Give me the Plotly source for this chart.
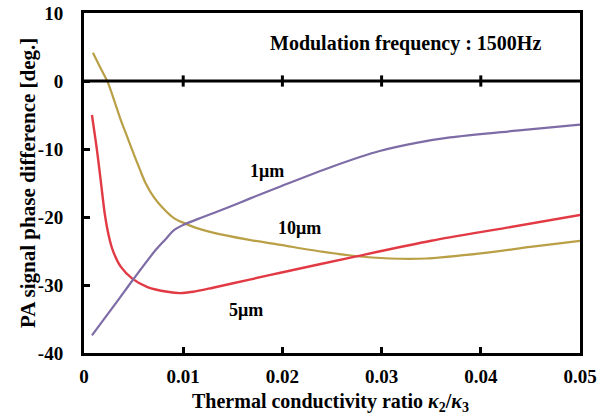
import plotly.graph_objects as go

# Data
x_1um = [0.0008, 0.0034, 0.0049, 0.0072, 0.0082, 0.0091, 0.0101, 0.012, 0.0145, 0.0167, 0.0198, 0.025, 0.0298, 0.0335, 0.0369, 0.0436, 0.05]
y_1um = [-37.4, -32.3, -29.3, -24.9, -23.3, -21.9, -21.1, -20.0, -18.6, -17.3, -15.5, -12.6, -10.3, -9.1, -8.3, -7.3, -6.4]

x_5um = [0.0008, 0.0013, 0.0017, 0.0021, 0.0025, 0.0029, 0.0037, 0.0049, 0.0064, 0.0084, 0.0097, 0.011, 0.013, 0.0167, 0.0198, 0.0271, 0.035, 0.0425, 0.05]
y_5um = [-5.0, -10.1, -14.8, -19.6, -22.8, -24.9, -27.3, -29.1, -30.3, -31.0, -31.2, -31.0, -30.4, -29.2, -28.2, -25.9, -23.5, -21.6, -19.7]

x_10um = [0.0009, 0.0016, 0.0024, 0.0031, 0.0037, 0.0043, 0.0049, 0.0056, 0.0062, 0.007, 0.0079, 0.0091, 0.0101, 0.0113, 0.013, 0.0164, 0.0198, 0.024, 0.0271, 0.0308, 0.0345, 0.0402, 0.045, 0.05]
y_10um = [4.15, 2.1, -0.2, -3.1, -5.7, -8.0, -10.3, -12.9, -15.0, -17.0, -18.6, -20.2, -20.9, -21.6, -22.3, -23.3, -24.1, -25.1, -25.7, -26.1, -26.1, -25.3, -24.4, -23.5]

x_ticks = [0, 0.01, 0.02, 0.03, 0.04, 0.05]
x_tick_text = ["0", "0.01", "0.02", "0.03", "0.04", "0.05"]
y_ticks = [10, 0, -10, -20, -30, -40]
y_tick_text = ["10", "0", "-10", "-20", "-30", "-40"]

labels = ["1μm", "10μm", "5μm"]
label_x = [0.0184, 0.0217, 0.0163]
label_y = [-13.2, -21.6, -33.7]

FONT = "Liberation Serif"

fig = go.Figure()
fig.add_trace(go.Scatter(x=x_10um, y=y_10um, mode="lines", line=dict(color="#b99f45", width=2.2, shape="spline", smoothing=0.8)))
fig.add_trace(go.Scatter(x=x_5um, y=y_5um, mode="lines", line=dict(color="#e23a44", width=2.4, shape="spline", smoothing=0.8)))
fig.add_trace(go.Scatter(x=x_1um, y=y_1um, mode="lines", line=dict(color="#7e6ca6", width=2.2, shape="spline", smoothing=0.8)))

# zero line with small ticks
fig.add_trace(go.Scatter(x=[0, 0.05], y=[0, 0], mode="lines", line=dict(color="black", width=3), hoverinfo="skip"))
fig.add_trace(go.Scatter(x=x_ticks[1:-1], y=[0] * 4, mode="markers",
                         marker=dict(symbol="line-ns", size=8, line=dict(color="black", width=3)), hoverinfo="skip"))

for t, xx, yy in zip(labels, label_x, label_y):
    fig.add_annotation(x=xx, y=yy, text="<b>%s</b>" % t, showarrow=False,
                       font=dict(family=FONT, size=18, color="black"))

fig.add_annotation(x=0.0324, y=5.5, text="<b>Modulation frequency : 1500Hz</b>", showarrow=False,
                   font=dict(family=FONT, size=20, color="black"))

# axis titles
fig.add_annotation(xref="paper", yref="paper", x=0.496, y=-0.147, yanchor="middle",
                   text="<b>Thermal conductivity ratio <i>κ</i><sub>2</sub>/<i>κ</i><sub>3</sub></b>",
                   showarrow=False, font=dict(family=FONT, size=20, color="black"))
fig.add_annotation(xref="paper", yref="paper", x=-0.113, y=0.5, xanchor="center", yanchor="middle",
                   textangle=-90, text="<b>PA signal phase difference [deg.]</b>",
                   showarrow=False, font=dict(family=FONT, size=21, color="black"))

fig.update_layout(
    width=607, height=416,
    margin=dict(l=84, r=27, t=13, b=63),
    paper_bgcolor="white", plot_bgcolor="white",
    showlegend=False,
    font=dict(family=FONT, size=19, color="black"),
)
fig.update_xaxes(range=[0, 0.05], tickvals=x_ticks, ticktext=["<b>%s</b>" % t for t in x_tick_text],
                 showgrid=False, zeroline=False, showline=True, linecolor="black", linewidth=3, mirror=True,
                 ticks="inside", ticklen=6, tickwidth=3, tickcolor="black", automargin=False,
                 ticklabelstandoff=4, tickfont=dict(family=FONT, size=19))
fig.update_yaxes(range=[-40, 10], tickvals=y_ticks, ticktext=["<b>%s</b>" % t for t in y_tick_text],
                 showgrid=False, zeroline=False, showline=True, linecolor="black", linewidth=3, mirror=True,
                 ticks="inside", ticklen=6, tickwidth=3, tickcolor="black", automargin=False,
                 ticklabelstandoff=14, tickfont=dict(family=FONT, size=19))

fig.write_html("out.html", config={"displayModeBar": False},
               post_script="document.body.style.margin='0px';")
